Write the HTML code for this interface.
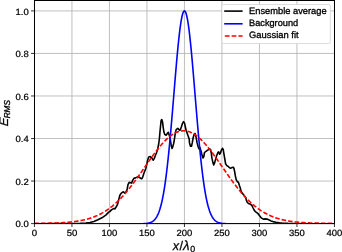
<!DOCTYPE html>
<html><head><meta charset="utf-8"><style>
html,body{margin:0;padding:0;background:#fff;width:342px;height:252px;overflow:hidden}
svg{display:block;will-change:transform}
text{font-family:"Liberation Sans",sans-serif;fill:#000;text-rendering:geometricPrecision}
</style></head><body>
<svg width="342" height="252" viewBox="0 0 342 252">
<rect width="342" height="252" fill="#fff"/>
<defs><clipPath id="ax"><rect x="34.45" y="0.27" width="300.0" height="223.32999999999998"/></clipPath></defs>
<g><line x1="34.45" y1="0" x2="34.45" y2="223.60" stroke="#b0b0b0" stroke-width="0.8"/>
<line x1="71.95" y1="0" x2="71.95" y2="223.60" stroke="#b0b0b0" stroke-width="0.8"/>
<line x1="109.45" y1="0" x2="109.45" y2="223.60" stroke="#b0b0b0" stroke-width="0.8"/>
<line x1="146.95" y1="0" x2="146.95" y2="223.60" stroke="#b0b0b0" stroke-width="0.8"/>
<line x1="184.45" y1="0" x2="184.45" y2="223.60" stroke="#b0b0b0" stroke-width="0.8"/>
<line x1="221.95" y1="0" x2="221.95" y2="223.60" stroke="#b0b0b0" stroke-width="0.8"/>
<line x1="259.45" y1="0" x2="259.45" y2="223.60" stroke="#b0b0b0" stroke-width="0.8"/>
<line x1="296.95" y1="0" x2="296.95" y2="223.60" stroke="#b0b0b0" stroke-width="0.8"/>
<line x1="334.45" y1="0" x2="334.45" y2="223.60" stroke="#b0b0b0" stroke-width="0.8"/>
<line x1="34.45" y1="223.60" x2="334.45" y2="223.60" stroke="#b0b0b0" stroke-width="0.8"/>
<line x1="34.45" y1="181.06" x2="334.45" y2="181.06" stroke="#b0b0b0" stroke-width="0.8"/>
<line x1="34.45" y1="138.52" x2="334.45" y2="138.52" stroke="#b0b0b0" stroke-width="0.8"/>
<line x1="34.45" y1="95.98" x2="334.45" y2="95.98" stroke="#b0b0b0" stroke-width="0.8"/>
<line x1="34.45" y1="53.44" x2="334.45" y2="53.44" stroke="#b0b0b0" stroke-width="0.8"/>
<line x1="34.45" y1="10.90" x2="334.45" y2="10.90" stroke="#b0b0b0" stroke-width="0.8"/></g>
<g clip-path="url(#ax)">
<polyline points="34.45,223.80 80.00,223.40 86.00,222.95 90.00,222.50 93.90,221.40 97.90,219.80 101.90,217.80 105.80,215.10 109.00,211.90 109.80,211.60 111.40,209.90 113.10,208.80 114.50,208.60 114.90,208.90 116.30,206.80 117.70,203.90 118.90,198.90 119.90,195.30 121.30,193.10 123.40,191.80 124.90,193.20 126.30,191.50 127.20,189.00 128.00,184.70 129.20,182.30 130.40,182.70 131.60,183.10 132.70,180.30 133.90,178.30 135.50,177.90 137.10,177.10 138.30,176.60 139.50,177.50 141.10,178.70 141.90,178.70 142.70,177.10 143.50,174.80 143.70,173.80 145.90,168.20 147.60,160.40 148.70,157.10 150.30,156.60 152.00,158.20 153.10,160.20 154.20,158.60 155.30,155.80 156.60,152.50 157.60,149.50 158.70,144.00 159.40,138.50 160.10,130.50 160.60,125.50 161.10,120.50 161.80,119.60 162.50,121.70 163.20,127.30 163.90,132.00 164.80,134.50 166.30,135.20 167.60,133.00 168.30,132.30 169.20,134.90 170.30,139.60 171.30,145.80 172.10,148.50 172.80,146.60 173.70,143.40 174.70,137.40 175.40,132.40 176.20,129.70 177.80,128.40 178.80,129.30 179.60,130.30 180.40,129.80 181.50,126.60 182.50,123.30 183.50,121.70 184.60,123.30 185.40,127.20 186.10,130.30 187.60,134.60 189.20,139.00 189.50,142.90 190.50,146.30 191.50,146.30 192.40,142.20 193.20,137.50 194.20,134.20 195.10,133.50 196.20,137.50 197.10,142.90 198.20,147.00 199.10,149.00 199.90,147.40 201.00,150.90 201.80,154.30 203.00,157.90 203.80,156.70 204.50,152.50 206.00,151.30 207.70,150.10 209.50,148.90 210.50,149.50 211.30,153.10 211.90,157.90 212.90,162.60 213.70,165.00 214.50,163.20 215.50,159.60 216.70,155.50 217.90,152.50 218.80,151.90 219.60,154.30 220.50,153.10 221.40,150.10 222.40,148.30 223.20,149.50 223.80,153.10 224.80,159.00 225.60,163.80 226.80,165.60 228.00,166.20 229.20,167.40 230.60,168.30 231.90,167.60 233.30,167.20 234.00,168.50 234.70,171.80 235.40,176.00 236.10,179.40 237.20,181.50 238.50,182.50 239.40,185.50 240.30,188.00 241.00,191.00 242.40,193.30 244.30,195.70 245.70,197.60 246.40,200.40 247.20,202.20 248.40,203.50 250.00,204.00 251.20,204.70 252.00,205.60 253.10,208.00 254.30,210.30 255.40,211.70 257.10,212.80 258.20,213.80 259.40,215.60 261.20,217.80 263.40,219.20 265.10,218.90 266.90,219.10 268.70,219.80 270.90,220.90 273.00,221.60 275.90,222.30 279.40,222.80 282.00,223.05 288.00,223.40 295.00,223.60 310.00,223.80 334.45,223.80" fill="none" stroke="#000" stroke-width="1.6" stroke-linejoin="round"/>
<polyline points="109.45,223.80 109.83,223.80 110.20,223.80 110.58,223.80 110.95,223.80 111.33,223.80 111.70,223.80 112.08,223.80 112.45,223.80 112.83,223.80 113.20,223.80 113.58,223.80 113.95,223.80 114.33,223.80 114.70,223.80 115.08,223.80 115.45,223.80 115.83,223.80 116.20,223.80 116.58,223.80 116.95,223.80 117.33,223.80 117.70,223.80 118.08,223.80 118.45,223.80 118.83,223.80 119.20,223.80 119.58,223.80 119.95,223.80 120.33,223.80 120.70,223.80 121.08,223.80 121.45,223.80 121.83,223.80 122.20,223.80 122.58,223.80 122.95,223.80 123.33,223.80 123.70,223.80 124.08,223.80 124.45,223.80 124.83,223.80 125.20,223.80 125.58,223.80 125.95,223.80 126.33,223.80 126.70,223.80 127.08,223.80 127.45,223.80 127.83,223.80 128.20,223.80 128.57,223.80 128.95,223.80 129.32,223.80 129.70,223.80 130.07,223.80 130.45,223.80 130.82,223.80 131.20,223.80 131.57,223.80 131.95,223.80 132.32,223.80 132.70,223.80 133.07,223.80 133.45,223.80 133.82,223.80 134.20,223.80 134.57,223.80 134.95,223.80 135.32,223.80 135.70,223.79 136.07,223.79 136.45,223.79 136.82,223.79 137.20,223.79 137.57,223.79 137.95,223.79 138.32,223.78 138.70,223.78 139.07,223.78 139.45,223.77 139.82,223.77 140.20,223.76 140.57,223.76 140.95,223.75 141.32,223.75 141.70,223.74 142.07,223.73 142.45,223.72 142.82,223.70 143.20,223.69 143.57,223.67 143.95,223.65 144.32,223.63 144.70,223.61 145.07,223.58 145.45,223.55 145.82,223.52 146.20,223.48 146.57,223.44 146.95,223.39 147.32,223.33 147.70,223.27 148.07,223.21 148.45,223.13 148.82,223.04 149.20,222.95 149.57,222.84 149.95,222.73 150.32,222.60 150.70,222.45 151.07,222.29 151.45,222.12 151.82,221.92 152.20,221.71 152.57,221.47 152.95,221.21 153.32,220.93 153.70,220.62 154.07,220.27 154.45,219.90 154.82,219.49 155.20,219.05 155.57,218.57 155.95,218.04 156.32,217.47 156.70,216.85 157.07,216.18 157.45,215.46 157.82,214.68 158.20,213.84 158.57,212.94 158.95,211.97 159.32,210.93 159.70,209.81 160.07,208.62 160.45,207.34 160.82,205.98 161.20,204.53 161.57,202.99 161.95,201.36 162.32,199.63 162.70,197.79 163.07,195.86 163.45,193.81 163.82,191.66 164.20,189.39 164.57,187.01 164.95,184.52 165.32,181.90 165.70,179.17 166.07,176.33 166.45,173.36 166.82,170.27 167.20,167.07 167.57,163.75 167.95,160.31 168.32,156.77 168.70,153.11 169.07,149.34 169.45,145.48 169.82,141.51 170.20,137.46 170.57,133.31 170.95,129.09 171.32,124.79 171.70,120.43 172.07,116.01 172.45,111.54 172.82,107.03 173.20,102.49 173.57,97.94 173.95,93.37 174.32,88.81 174.70,84.26 175.07,79.74 175.45,75.26 175.82,70.84 176.20,66.47 176.57,62.19 176.95,57.99 177.32,53.90 177.70,49.93 178.07,46.08 178.45,42.38 178.82,38.83 179.20,35.45 179.57,32.24 179.95,29.22 180.32,26.41 180.70,23.80 181.07,21.41 181.45,19.25 181.82,17.32 182.20,15.64 182.57,14.20 182.95,13.02 183.32,12.09 183.70,11.43 184.07,11.03 184.45,10.90 184.82,11.03 185.20,11.43 185.57,12.09 185.95,13.02 186.32,14.20 186.70,15.64 187.07,17.32 187.45,19.25 187.82,21.41 188.20,23.80 188.57,26.41 188.95,29.22 189.32,32.24 189.70,35.45 190.07,38.83 190.45,42.38 190.82,46.08 191.20,49.93 191.57,53.90 191.95,57.99 192.32,62.19 192.70,66.47 193.07,70.84 193.45,75.26 193.82,79.74 194.20,84.26 194.57,88.81 194.95,93.37 195.32,97.94 195.70,102.49 196.07,107.03 196.45,111.54 196.82,116.01 197.20,120.43 197.57,124.79 197.95,129.09 198.32,133.31 198.70,137.46 199.07,141.51 199.45,145.48 199.82,149.34 200.20,153.11 200.57,156.77 200.95,160.31 201.32,163.75 201.70,167.07 202.07,170.27 202.45,173.36 202.82,176.33 203.20,179.17 203.57,181.90 203.95,184.52 204.32,187.01 204.70,189.39 205.07,191.66 205.45,193.81 205.82,195.86 206.20,197.79 206.57,199.63 206.95,201.36 207.32,202.99 207.70,204.53 208.07,205.98 208.45,207.34 208.82,208.62 209.20,209.81 209.57,210.93 209.95,211.97 210.32,212.94 210.70,213.84 211.07,214.68 211.45,215.46 211.82,216.18 212.20,216.85 212.57,217.47 212.95,218.04 213.32,218.57 213.70,219.05 214.07,219.49 214.45,219.90 214.82,220.27 215.20,220.62 215.57,220.93 215.95,221.21 216.32,221.47 216.70,221.71 217.07,221.92 217.45,222.12 217.82,222.29 218.20,222.45 218.57,222.60 218.95,222.73 219.32,222.84 219.70,222.95 220.07,223.04 220.45,223.13 220.82,223.21 221.20,223.27 221.57,223.33 221.95,223.39 222.32,223.44 222.70,223.48 223.07,223.52 223.45,223.55 223.82,223.58 224.20,223.61 224.57,223.63 224.95,223.65 225.32,223.67 225.70,223.69 226.07,223.70 226.45,223.72 226.82,223.73 227.20,223.74 227.57,223.75 227.95,223.75 228.32,223.76 228.70,223.76 229.07,223.77 229.45,223.77 229.82,223.78 230.20,223.78 230.57,223.78 230.95,223.79 231.32,223.79 231.70,223.79 232.07,223.79 232.45,223.79 232.82,223.79 233.20,223.79 233.57,223.80 233.95,223.80 234.32,223.80 234.70,223.80 235.07,223.80 235.45,223.80 235.82,223.80 236.20,223.80 236.57,223.80 236.95,223.80 237.32,223.80 237.70,223.80 238.07,223.80 238.45,223.80 238.82,223.80 239.20,223.80 239.57,223.80 239.95,223.80 240.32,223.80 240.70,223.80 241.07,223.80 241.45,223.80 241.82,223.80 242.20,223.80 242.57,223.80 242.95,223.80 243.32,223.80 243.70,223.80 244.07,223.80 244.45,223.80 244.82,223.80 245.20,223.80 245.57,223.80 245.95,223.80 246.32,223.80 246.70,223.80 247.07,223.80 247.45,223.80 247.82,223.80 248.20,223.80 248.57,223.80 248.95,223.80 249.32,223.80 249.70,223.80 250.07,223.80 250.45,223.80 250.82,223.80 251.20,223.80 251.57,223.80 251.95,223.80 252.32,223.80 252.70,223.80 253.07,223.80 253.45,223.80 253.82,223.80 254.20,223.80 254.57,223.80 254.95,223.80 255.32,223.80 255.70,223.80 256.07,223.80 256.45,223.80 256.82,223.80 257.20,223.80 257.57,223.80 257.95,223.80 258.32,223.80 258.70,223.80 259.07,223.80 259.45,223.80" fill="none" stroke="#0000ff" stroke-width="1.6" stroke-linejoin="round"/>
<polyline points="34.45,223.34 34.95,223.34 35.45,223.33 35.95,223.33 36.45,223.33 36.95,223.32 37.45,223.32 37.95,223.32 38.45,223.31 38.95,223.31 39.45,223.30 39.95,223.30 40.45,223.29 40.95,223.29 41.45,223.28 41.95,223.28 42.45,223.27 42.95,223.27 43.45,223.26 43.95,223.25 44.45,223.25 44.95,223.24 45.45,223.23 45.95,223.22 46.45,223.21 46.95,223.21 47.45,223.20 47.95,223.19 48.45,223.18 48.95,223.17 49.45,223.16 49.95,223.15 50.45,223.14 50.95,223.12 51.45,223.11 51.95,223.10 52.45,223.08 52.95,223.07 53.45,223.06 53.95,223.04 54.45,223.03 54.95,223.01 55.45,222.99 55.95,222.98 56.45,222.96 56.95,222.94 57.45,222.92 57.95,222.90 58.45,222.88 58.95,222.85 59.45,222.83 59.95,222.81 60.45,222.78 60.95,222.76 61.45,222.73 61.95,222.70 62.45,222.67 62.95,222.65 63.45,222.61 63.95,222.58 64.45,222.55 64.95,222.52 65.45,222.48 65.95,222.44 66.45,222.41 66.95,222.37 67.45,222.33 67.95,222.28 68.45,222.24 68.95,222.20 69.45,222.15 69.95,222.10 70.45,222.05 70.95,222.00 71.45,221.95 71.95,221.89 72.45,221.84 72.95,221.78 73.45,221.72 73.95,221.66 74.45,221.59 74.95,221.53 75.45,221.46 75.95,221.39 76.45,221.32 76.95,221.24 77.45,221.16 77.95,221.08 78.45,221.00 78.95,220.92 79.45,220.83 79.95,220.74 80.45,220.65 80.95,220.55 81.45,220.45 81.95,220.35 82.45,220.25 82.95,220.14 83.45,220.03 83.95,219.92 84.45,219.80 84.95,219.68 85.45,219.56 85.95,219.43 86.45,219.31 86.95,219.17 87.45,219.04 87.95,218.89 88.45,218.75 88.95,218.60 89.45,218.45 89.95,218.29 90.45,218.13 90.95,217.97 91.45,217.80 91.95,217.63 92.45,217.45 92.95,217.27 93.45,217.08 93.95,216.89 94.45,216.70 94.95,216.50 95.45,216.30 95.95,216.09 96.45,215.87 96.95,215.65 97.45,215.43 97.95,215.20 98.45,214.96 98.95,214.72 99.45,214.48 99.95,214.23 100.45,213.97 100.95,213.71 101.45,213.44 101.95,213.17 102.45,212.89 102.95,212.61 103.45,212.31 103.95,212.02 104.45,211.72 104.95,211.41 105.45,211.09 105.95,210.77 106.45,210.44 106.95,210.11 107.45,209.77 107.95,209.42 108.45,209.07 108.95,208.71 109.45,208.35 109.95,207.98 110.45,207.60 110.95,207.21 111.45,206.82 111.95,206.42 112.45,206.02 112.95,205.60 113.45,205.18 113.95,204.76 114.45,204.33 114.95,203.89 115.45,203.44 115.95,202.99 116.45,202.53 116.95,202.06 117.45,201.59 117.95,201.11 118.45,200.62 118.95,200.13 119.45,199.63 119.95,199.12 120.45,198.61 120.95,198.09 121.45,197.56 121.95,197.02 122.45,196.48 122.95,195.94 123.45,195.38 123.95,194.82 124.45,194.26 124.95,193.68 125.45,193.10 125.95,192.52 126.45,191.93 126.95,191.33 127.45,190.73 127.95,190.12 128.45,189.50 128.95,188.88 129.45,188.26 129.95,187.63 130.45,186.99 130.95,186.35 131.45,185.70 131.95,185.05 132.45,184.39 132.95,183.73 133.45,183.06 133.95,182.39 134.45,181.72 134.95,181.04 135.45,180.36 135.95,179.67 136.45,178.98 136.95,178.29 137.45,177.59 137.95,176.89 138.45,176.18 138.95,175.48 139.45,174.77 139.95,174.06 140.45,173.35 140.95,172.63 141.45,171.92 141.95,171.20 142.45,170.48 142.95,169.76 143.45,169.04 143.95,168.32 144.45,167.60 144.95,166.87 145.45,166.15 145.95,165.43 146.45,164.71 146.95,163.99 147.45,163.27 147.95,162.55 148.45,161.84 148.95,161.12 149.45,160.41 149.95,159.70 150.45,159.00 150.95,158.29 151.45,157.59 151.95,156.89 152.45,156.20 152.95,155.51 153.45,154.83 153.95,154.14 154.45,153.47 154.95,152.80 155.45,152.13 155.95,151.47 156.45,150.82 156.95,150.17 157.45,149.53 157.95,148.89 158.45,148.26 158.95,147.64 159.45,147.03 159.95,146.43 160.45,145.83 160.95,145.24 161.45,144.66 161.95,144.09 162.45,143.52 162.95,142.97 163.45,142.43 163.95,141.89 164.45,141.37 164.95,140.85 165.45,140.35 165.95,139.86 166.45,139.38 166.95,138.91 167.45,138.45 167.95,138.00 168.45,137.56 168.95,137.14 169.45,136.73 169.95,136.33 170.45,135.94 170.95,135.57 171.45,135.21 171.95,134.86 172.45,134.53 172.95,134.21 173.45,133.90 173.95,133.61 174.45,133.33 174.95,133.06 175.45,132.81 175.95,132.57 176.45,132.35 176.95,132.14 177.45,131.95 177.95,131.77 178.45,131.61 178.95,131.46 179.45,131.33 179.95,131.21 180.45,131.10 180.95,131.01 181.45,130.94 181.95,130.88 182.45,130.84 182.95,130.81 183.45,130.80 183.95,130.80 184.45,130.82 184.95,130.86 185.45,130.90 185.95,130.97 186.45,131.05 186.95,131.14 187.45,131.25 187.95,131.38 188.45,131.52 188.95,131.67 189.45,131.84 189.95,132.03 190.45,132.22 190.95,132.44 191.45,132.67 191.95,132.91 192.45,133.17 192.95,133.44 193.45,133.72 193.95,134.02 194.45,134.33 194.95,134.66 195.45,135.00 195.95,135.35 196.45,135.72 196.95,136.10 197.45,136.49 197.95,136.89 198.45,137.31 198.95,137.74 199.45,138.18 199.95,138.63 200.45,139.09 200.95,139.57 201.45,140.05 201.95,140.55 202.45,141.06 202.95,141.58 203.45,142.10 203.95,142.64 204.45,143.19 204.95,143.75 205.45,144.31 205.95,144.89 206.45,145.47 206.95,146.07 207.45,146.67 207.95,147.28 208.45,147.89 208.95,148.52 209.45,149.15 209.95,149.78 210.45,150.43 210.95,151.08 211.45,151.73 211.95,152.40 212.45,153.06 212.95,153.74 213.45,154.42 213.95,155.10 214.45,155.79 214.95,156.48 215.45,157.17 215.95,157.87 216.45,158.57 216.95,159.28 217.45,159.99 217.95,160.70 218.45,161.41 218.95,162.12 219.45,162.84 219.95,163.56 220.45,164.28 220.95,165.00 221.45,165.72 221.95,166.44 222.45,167.16 222.95,167.88 223.45,168.61 223.95,169.33 224.45,170.05 224.95,170.77 225.45,171.49 225.95,172.20 226.45,172.92 226.95,173.63 227.45,174.34 227.95,175.05 228.45,175.76 228.95,176.47 229.45,177.17 229.95,177.87 230.45,178.56 230.95,179.26 231.45,179.94 231.95,180.63 232.45,181.31 232.95,181.99 233.45,182.66 233.95,183.33 234.45,183.99 234.95,184.65 235.45,185.31 235.95,185.96 236.45,186.60 236.95,187.24 237.45,187.88 237.95,188.51 238.45,189.13 238.95,189.75 239.45,190.36 239.95,190.97 240.45,191.57 240.95,192.17 241.45,192.75 241.95,193.34 242.45,193.91 242.95,194.48 243.45,195.05 243.95,195.61 244.45,196.16 244.95,196.70 245.45,197.24 245.95,197.77 246.45,198.29 246.95,198.81 247.45,199.32 247.95,199.83 248.45,200.33 248.95,200.82 249.45,201.30 249.95,201.78 250.45,202.25 250.95,202.71 251.45,203.17 251.95,203.62 252.45,204.06 252.95,204.50 253.45,204.93 253.95,205.35 254.45,205.77 254.95,206.18 255.45,206.58 255.95,206.98 256.45,207.37 256.95,207.75 257.45,208.12 257.95,208.49 258.45,208.86 258.95,209.21 259.45,209.56 259.95,209.91 260.45,210.24 260.95,210.58 261.45,210.90 261.95,211.22 262.45,211.53 262.95,211.84 263.45,212.14 263.95,212.43 264.45,212.72 264.95,213.00 265.45,213.28 265.95,213.55 266.45,213.81 266.95,214.07 267.45,214.33 267.95,214.58 268.45,214.82 268.95,215.06 269.45,215.29 269.95,215.52 270.45,215.74 270.95,215.96 271.45,216.17 271.95,216.38 272.45,216.58 272.95,216.78 273.45,216.97 273.95,217.16 274.45,217.34 274.95,217.52 275.45,217.70 275.95,217.87 276.45,218.04 276.95,218.20 277.45,218.36 277.95,218.51 278.45,218.66 278.95,218.81 279.45,218.95 279.95,219.09 280.45,219.23 280.95,219.36 281.45,219.49 281.95,219.61 282.45,219.73 282.95,219.85 283.45,219.97 283.95,220.08 284.45,220.19 284.95,220.29 285.45,220.39 285.95,220.49 286.45,220.59 286.95,220.68 287.45,220.78 287.95,220.86 288.45,220.95 288.95,221.03 289.45,221.12 289.95,221.19 290.45,221.27 290.95,221.34 291.45,221.42 291.95,221.49 292.45,221.55 292.95,221.62 293.45,221.68 293.95,221.74 294.45,221.80 294.95,221.86 295.45,221.92 295.95,221.97 296.45,222.02 296.95,222.07 297.45,222.12 297.95,222.17 298.45,222.21 298.95,222.26 299.45,222.30 299.95,222.34 300.45,222.38 300.95,222.42 301.45,222.46 301.95,222.50 302.45,222.53 302.95,222.56 303.45,222.60 303.95,222.63 304.45,222.66 304.95,222.69 305.45,222.71 305.95,222.74 306.45,222.77 306.95,222.79 307.45,222.82 307.95,222.84 308.45,222.86 308.95,222.88 309.45,222.91 309.95,222.93 310.45,222.95 310.95,222.96 311.45,222.98 311.95,223.00 312.45,223.02 312.95,223.03 313.45,223.05 313.95,223.06 314.45,223.08 314.95,223.09 315.45,223.10 315.95,223.12 316.45,223.13 316.95,223.14 317.45,223.15 317.95,223.16 318.45,223.17 318.95,223.18 319.45,223.19 319.95,223.20 320.45,223.21 320.95,223.22 321.45,223.23 321.95,223.23 322.45,223.24 322.95,223.25 323.45,223.26 323.95,223.26 324.45,223.27 324.95,223.27 325.45,223.28 325.95,223.29 326.45,223.29 326.95,223.30 327.45,223.30 327.95,223.31 328.45,223.31 328.95,223.31 329.45,223.32 329.95,223.32 330.45,223.33 330.95,223.33 331.45,223.33 331.95,223.34 332.45,223.34 332.95,223.34 333.45,223.34 333.95,223.35 334.45,223.35" fill="none" stroke="#ff0000" stroke-width="1.6" stroke-dasharray="4.6 2" />
</g>
<rect x="34.5" y="0.5" width="300" height="223.1" fill="none" stroke="#000" stroke-width="1.0"/>
<g><line x1="34.45" y1="223.60" x2="34.45" y2="227.00" stroke="#000" stroke-width="0.8"/>
<line x1="71.95" y1="223.60" x2="71.95" y2="227.00" stroke="#000" stroke-width="0.8"/>
<line x1="109.45" y1="223.60" x2="109.45" y2="227.00" stroke="#000" stroke-width="0.8"/>
<line x1="146.95" y1="223.60" x2="146.95" y2="227.00" stroke="#000" stroke-width="0.8"/>
<line x1="184.45" y1="223.60" x2="184.45" y2="227.00" stroke="#000" stroke-width="0.8"/>
<line x1="221.95" y1="223.60" x2="221.95" y2="227.00" stroke="#000" stroke-width="0.8"/>
<line x1="259.45" y1="223.60" x2="259.45" y2="227.00" stroke="#000" stroke-width="0.8"/>
<line x1="296.95" y1="223.60" x2="296.95" y2="227.00" stroke="#000" stroke-width="0.8"/>
<line x1="334.45" y1="223.60" x2="334.45" y2="227.00" stroke="#000" stroke-width="0.8"/>
<line x1="31.05" y1="223.60" x2="34.45" y2="223.60" stroke="#000" stroke-width="0.8"/>
<line x1="31.05" y1="181.06" x2="34.45" y2="181.06" stroke="#000" stroke-width="0.8"/>
<line x1="31.05" y1="138.52" x2="34.45" y2="138.52" stroke="#000" stroke-width="0.8"/>
<line x1="31.05" y1="95.98" x2="34.45" y2="95.98" stroke="#000" stroke-width="0.8"/>
<line x1="31.05" y1="53.44" x2="34.45" y2="53.44" stroke="#000" stroke-width="0.8"/>
<line x1="31.05" y1="10.90" x2="34.45" y2="10.90" stroke="#000" stroke-width="0.8"/></g>
<g><text x="34.45" y="236.2" font-size="9.00" text-anchor="middle" textLength="5.4" lengthAdjust="spacingAndGlyphs" stroke="#000" stroke-width="0.22">0</text>
<text x="71.95" y="236.2" font-size="9.00" text-anchor="middle" textLength="10.6" lengthAdjust="spacingAndGlyphs" stroke="#000" stroke-width="0.22">50</text>
<text x="109.45" y="236.2" font-size="9.00" text-anchor="middle" textLength="15.8" lengthAdjust="spacingAndGlyphs" stroke="#000" stroke-width="0.22">100</text>
<text x="146.95" y="236.2" font-size="9.00" text-anchor="middle" textLength="15.8" lengthAdjust="spacingAndGlyphs" stroke="#000" stroke-width="0.22">150</text>
<text x="184.45" y="236.2" font-size="9.00" text-anchor="middle" textLength="15.8" lengthAdjust="spacingAndGlyphs" stroke="#000" stroke-width="0.22">200</text>
<text x="221.95" y="236.2" font-size="9.00" text-anchor="middle" textLength="15.8" lengthAdjust="spacingAndGlyphs" stroke="#000" stroke-width="0.22">250</text>
<text x="259.45" y="236.2" font-size="9.00" text-anchor="middle" textLength="15.8" lengthAdjust="spacingAndGlyphs" stroke="#000" stroke-width="0.22">300</text>
<text x="296.95" y="236.2" font-size="9.00" text-anchor="middle" textLength="15.8" lengthAdjust="spacingAndGlyphs" stroke="#000" stroke-width="0.22">350</text>
<text x="334.45" y="236.2" font-size="9.00" text-anchor="middle" textLength="15.8" lengthAdjust="spacingAndGlyphs" stroke="#000" stroke-width="0.22">400</text>
<text x="28.7" y="227.25" font-size="9.00" text-anchor="end" textLength="13.2" lengthAdjust="spacingAndGlyphs" stroke="#000" stroke-width="0.22">0.0</text>
<text x="28.7" y="184.71" font-size="9.00" text-anchor="end" textLength="13.2" lengthAdjust="spacingAndGlyphs" stroke="#000" stroke-width="0.22">0.2</text>
<text x="28.7" y="142.17" font-size="9.00" text-anchor="end" textLength="13.2" lengthAdjust="spacingAndGlyphs" stroke="#000" stroke-width="0.22">0.4</text>
<text x="28.7" y="99.63" font-size="9.00" text-anchor="end" textLength="13.2" lengthAdjust="spacingAndGlyphs" stroke="#000" stroke-width="0.22">0.6</text>
<text x="28.7" y="57.09" font-size="9.00" text-anchor="end" textLength="13.2" lengthAdjust="spacingAndGlyphs" stroke="#000" stroke-width="0.22">0.8</text>
<text x="28.7" y="14.55" font-size="9.00" text-anchor="end" textLength="13.2" lengthAdjust="spacingAndGlyphs" stroke="#000" stroke-width="0.22">1.0</text></g>
<!-- legend -->
<rect x="221.9" y="4.5" width="108.4" height="39" rx="1.6" fill="#fff" stroke="#cccccc" stroke-opacity="0.85" stroke-width="0.8"/>
<line x1="224.2" y1="11.1" x2="242.6" y2="11.1" stroke="#000" stroke-width="1.6"/>
<line x1="224.2" y1="23.8" x2="242.6" y2="23.8" stroke="#0000ff" stroke-width="1.6"/>
<line x1="224.8" y1="36.0" x2="242.6" y2="36.0" stroke="#ff0000" stroke-width="1.6" stroke-dasharray="4.8 2"/>
<text x="249.0" y="13.8" font-size="9.3" textLength="77.6" lengthAdjust="spacingAndGlyphs" stroke="#000" stroke-width="0.32">Ensemble average</text>
<text x="249.0" y="26.2" font-size="9.3" textLength="49.2" lengthAdjust="spacingAndGlyphs" stroke="#000" stroke-width="0.32">Background</text>
<text x="249.0" y="38.4" font-size="9.3" textLength="49.6" lengthAdjust="spacingAndGlyphs" stroke="#000" stroke-width="0.32">Gaussian fit</text>
<!-- x label -->
<g stroke="#000" stroke-width="0.25">
<text x="172.7" y="249.6" font-size="12.6" font-style="italic">x</text>
<text x="179.4" y="249.8" font-size="12.6">/</text>
<text x="183.0" y="249.6" font-size="13.4" font-style="italic">λ</text>
<text x="190.2" y="252.4" font-size="8.8">0</text>
</g>
<!-- y label -->
<g transform="translate(8.2,126.6) rotate(-90)" stroke="#000" stroke-width="0.32">
<text x="0" y="0" font-size="12.6" font-style="italic" transform="skewX(-7)">E</text>
<text x="8.3" y="2.2" font-size="8.6" font-style="italic" textLength="18.2" lengthAdjust="spacingAndGlyphs">RMS</text>
</g>
</svg>
</body></html>
